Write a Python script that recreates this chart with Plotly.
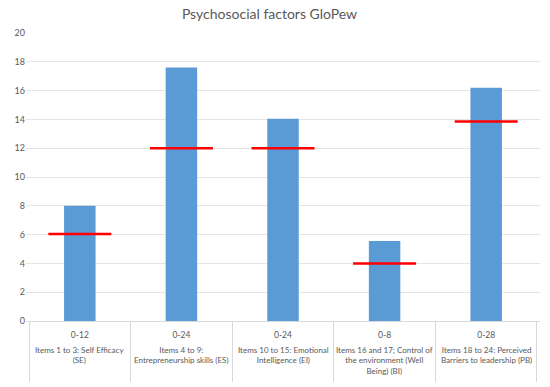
import plotly.graph_objects as go

ranges = ["0-12", "0-24", "0-24", "0-8", "0-28"]
factors = [
    "Items 1 to 3: Self Efficacy<br>(SE)",
    "Items 4 to 9:<br>Entrepreneurship skills (ES)",
    "Items 10 to 15: Emotional<br>Intelligence (EI)",
    "Items 16 and 17; Control of<br>the environment (Well<br>Being) (BI)",
    "Items 18 to 24: Perceived<br>Barriers to leadership (PB)",
]
scores = [8.0, 17.6, 14.05, 5.55, 16.2]
midpoints = [6.05, 12.0, 12.0, 4.0, 13.85]
y_ticks = [0, 2, 4, 6, 8, 10, 12, 14, 16, 18, 20]

fig = go.Figure()
fig.add_trace(go.Bar(x=factors, y=scores, marker=dict(color="#5B9BD5", line=dict(width=0)), showlegend=False))
fig.add_trace(go.Scatter(x=factors, y=midpoints, mode="markers",
                         marker=dict(symbol="line-ew", size=45, line=dict(color="#FF0000", width=2.5)),
                         showlegend=False))

for f in factors:
    fig.add_annotation(x=f, xref="x", y=-0.075, yref="paper", text=f, showarrow=False,
                       xanchor="center", yanchor="top", align="center",
                       font=dict(size=8, color="#595959"))

fig.update_layout(
    width=550, height=387,
    margin=dict(l=26, r=10, t=33, b=66, autoexpand=False),
    paper_bgcolor="white", plot_bgcolor="white",
    bargap=0.69,
    font=dict(family="Lato, Open Sans, sans-serif", color="#595959", size=9),
    title=dict(text="Psychosocial factors GloPew", x=0.49, xanchor="center", y=0.975, yanchor="top",
               font=dict(size=14, color="#595959")),
)
fig.update_xaxes(type="category", tickvals=factors, ticktext=ranges,
                 showline=True, linecolor="#D9D9D9", linewidth=1, tickson="boundaries",
                 ticks="outside", ticklen=60, tickcolor="#D9D9D9", tickwidth=1, tickangle=0,
                 ticklabelstandoff=6, automargin=False,
                 tickfont=dict(size=8.5, color="#595959"), showgrid=False)
fig.update_yaxes(range=[0, 20], tickvals=y_ticks, showgrid=True, gridcolor="#E5E5E5", gridwidth=1,
                 zeroline=False, showline=False, tickfont=dict(size=9, color="#595959"), ticks="",
                 automargin=False)

fig.write_html("out.html", config={"displayModeBar": False},
               post_script="document.body.style.margin='0';")
